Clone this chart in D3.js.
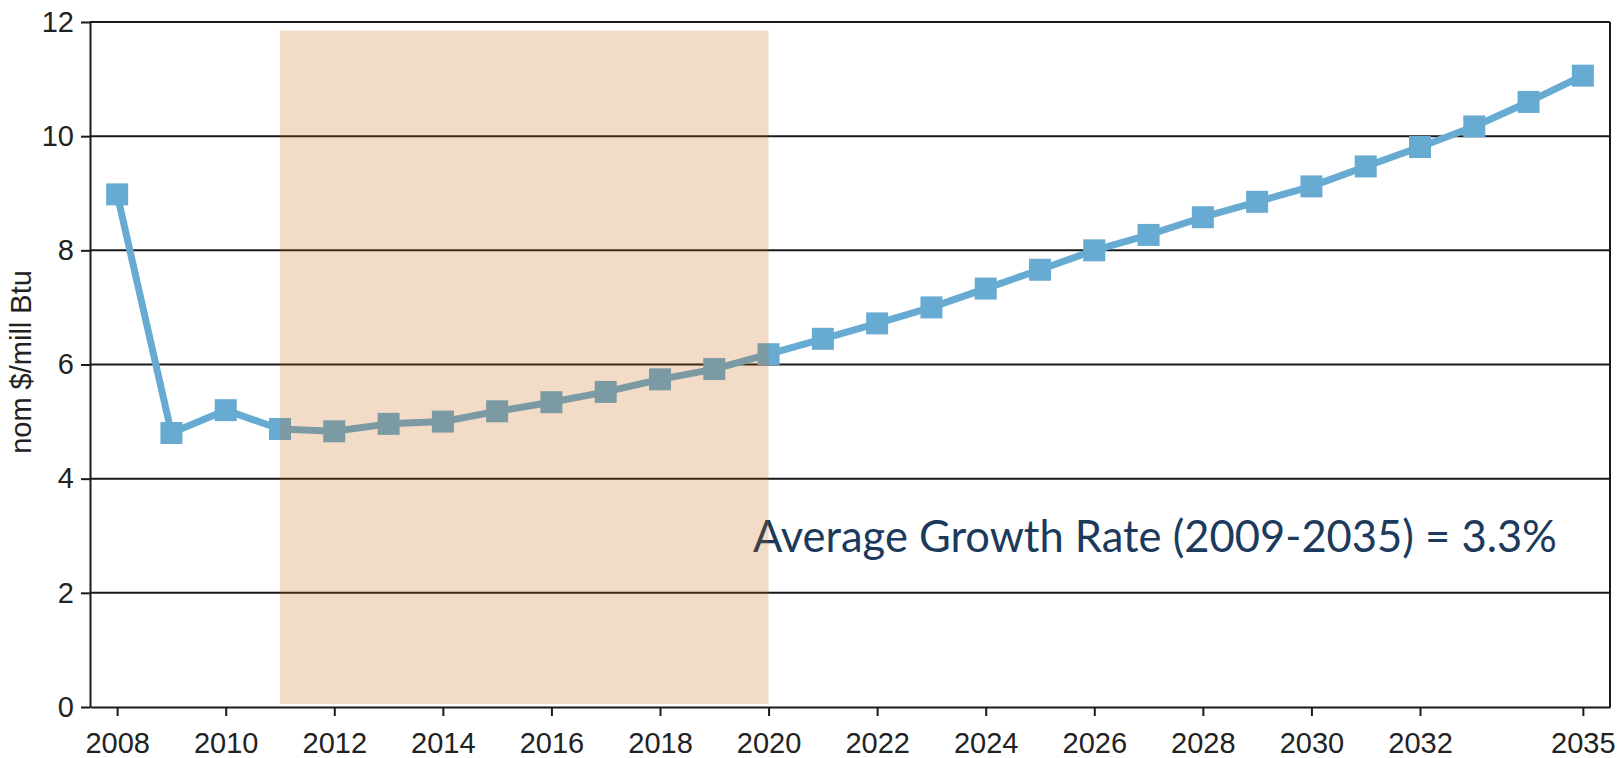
<!doctype html>
<html>
<head>
  <title>Natural gas price outlook</title>
  <meta charset="UTF-8">
  <script src="https://d3js.org/d3.v7.min.js"></script>
  <style>
    body { margin: 0; background: #fff; }
  </style>
</head>
<body>
  <div id="svg_area"></div>
</body>
</html>
<script>

// data
var years = [2008,2009,2010,2011,2012,2013,2014,2015,2016,2017,2018,2019,2020,2021,
             2022,2023,2024,2025,2026,2027,2028,2029,2030,2031,2032,2033,2034,2035];
var prices = [8.98,4.80,5.20,4.87,4.83,4.96,5.00,5.18,5.34,5.52,5.74,5.92,6.18,6.45,
              6.72,7.00,7.33,7.66,8.00,8.27,8.58,8.85,9.12,9.47,9.81,10.17,10.60,11.06];
var yTicks = [0,2,4,6,8,10,12];
var xTickYears = [2008,2010,2012,2014,2016,2018,2020,2022,2024,2026,2028,2030,2032,2035];
var shadeYears = [2011, 2020];
var shadeTop = 11.85;
var yTitle = "nom $/mill Btu";
var note = "Average Growth Rate (2009-2035) = 3.3%";

function drawChart(){

  var width = 1620, height = 758;
  var plotLeft = 90, plotRight = 1610, plotTop = 22, plotBottom = 707;

  var svg = d3.select("#svg_area").append("svg")
      .attr("width", width)
      .attr("height", height);

  var xScale = d3.scalePoint()
      .domain(years)
      .range([plotLeft, plotRight])
      .padding(0.5);

  var yScale = d3.scaleLinear()
      .domain([0, 12])
      .range([plotBottom, plotTop]);

  // horizontal grid lines
  svg.append("g").selectAll("line")
      .data(yTicks.filter(function(d){ return d > 0; }))
      .enter().append("line")
      .attr("x1", plotLeft).attr("x2", plotRight)
      .attr("y1", function(d){ return yScale(d); })
      .attr("y2", function(d){ return yScale(d); })
      .attr("stroke", "#1a1a1a")
      .attr("stroke-width", 2);

  // right border
  svg.append("line")
      .attr("x1", plotRight).attr("x2", plotRight)
      .attr("y1", plotTop).attr("y2", plotBottom)
      .attr("stroke", "#1a1a1a")
      .attr("stroke-width", 2);

  // axes
  var yAxis = d3.axisLeft(yScale)
      .tickValues(yTicks)
      .tickSizeInner(9)
      .tickSizeOuter(0)
      .tickPadding(7);

  var xAxis = d3.axisBottom(xScale)
      .tickValues(xTickYears)
      .tickSizeInner(9)
      .tickSizeOuter(0)
      .tickPadding(16);

  var gy = svg.append("g")
      .attr("transform", "translate(" + plotLeft + ",0)")
      .call(yAxis);

  var gx = svg.append("g")
      .attr("transform", "translate(0," + plotBottom + ")")
      .call(xAxis);

  [gx, gy].forEach(function(g){
    g.select(".domain").attr("stroke", "#1a1a1a").attr("stroke-width", 2);
    g.selectAll(".tick line").attr("stroke", "#1a1a1a").attr("stroke-width", 2);
    g.selectAll("text")
      .attr("fill", "#222")
      .attr("font-family", "Liberation Sans, Arial, sans-serif")
      .attr("font-size", "29px");
  });

  // y axis title
  svg.append("text")
      .attr("transform", "translate(31,362) rotate(-90)")
      .attr("text-anchor", "middle")
      .attr("fill", "#222")
      .attr("font-family", "Liberation Sans, Arial, sans-serif")
      .attr("font-size", "29px")
      .text(yTitle);

  // price line
  var line = d3.line()
      .x(function(d, i){ return xScale(years[i]); })
      .y(function(d){ return yScale(d); });

  svg.append("path")
      .datum(prices)
      .attr("d", line)
      .attr("fill", "none")
      .attr("stroke", "#67abd2")
      .attr("stroke-width", 7)
      .attr("stroke-linejoin", "round");

  svg.append("g").selectAll("rect")
      .data(prices)
      .enter().append("rect")
      .attr("x", function(d, i){ return xScale(years[i]) - 11; })
      .attr("y", function(d){ return yScale(d) - 11; })
      .attr("width", 22)
      .attr("height", 22)
      .attr("fill", "#67abd2");

  // annotation
  svg.append("text")
      .attr("x", 753)
      .attr("y", 552)
      .attr("fill", "#1b3a5c")
      .attr("font-family", "Lato, Open Sans, sans-serif")
      .attr("font-size", "44px")
      .attr("textLength", 804)
      .attr("lengthAdjust", "spacingAndGlyphs")
      .text(note);

  // shaded period, drawn over everything
  svg.append("rect")
      .attr("x", xScale(shadeYears[0]))
      .attr("y", yScale(shadeTop))
      .attr("width", xScale(shadeYears[1]) - xScale(shadeYears[0]))
      .attr("height", yScale(0) - 3 - yScale(shadeTop))
      .attr("fill", "rgb(200,95,0)")
      .attr("fill-opacity", 0.22);
}

drawChart();

</script>
